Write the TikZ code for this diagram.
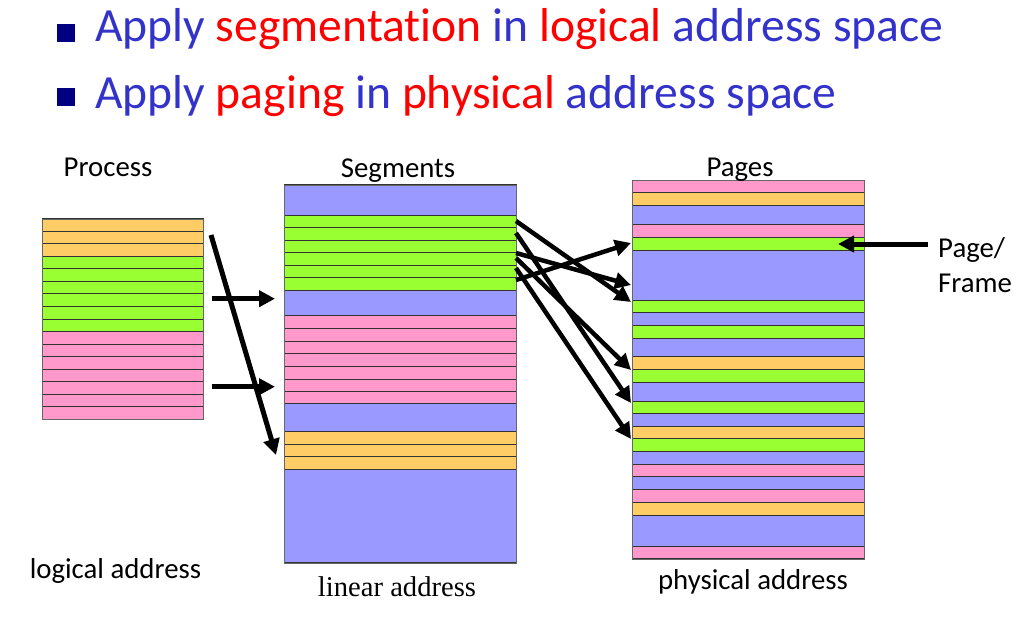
\documentclass[tikz,border=0pt]{standalone}
\usepackage{fontspec}
\setmainfont{Carlito}[Ligatures={NoCommon}]
\newfontfamily\timesfont{Liberation Serif}
\usetikzlibrary{arrows.meta}
\definecolor{cOrange}{HTML}{FFCC66}
\definecolor{cGreen}{HTML}{99FF33}
\definecolor{cPink}{HTML}{FF99CC}
\definecolor{cBlue}{HTML}{9999FF}
\definecolor{headblue}{HTML}{3333CC}
\definecolor{headred}{HTML}{FF0000}
\definecolor{bulletnavy}{HTML}{000080}
\tikzset{
  rowbox/.style={draw=black!80, line width=1pt},
  colframe/.style={draw=black!60, line width=1.1pt, inner sep=0pt, anchor=north west},
  bigarrow/.style={line width=5pt, -{Triangle[length=16pt,width=16pt]}},
  label/.style={inner sep=0pt, anchor=base, font=\fontsize{28.8}{34}\selectfont},
  headline/.style={inner sep=0pt, anchor=base west, text=headblue, font=\fontsize{47.6}{56}\selectfont},
  bulletsq/.style={fill=bulletnavy, inner sep=0pt, minimum size=18.5pt},
}
\newcommand{\hr}[1]{\textcolor{headred}{#1}}
\begin{document}
\begin{tikzpicture}[x=1pt,y=-1pt]
\useasboundingbox[fill=white] (0,0) rectangle (1024,619);

% headings
\node[bulletsq] (b1) at (65.8,33) {};
\node[headline] (h1) at (95,41.7) {Apply \hr{segmentation} in \hr{logical} address space};
\node[bulletsq] (b2) at (65.8,97) {};
\node[headline] (h2) at (95,108.3) {Apply \hr{paging} in \hr{physical} address space};

% Process column
\foreach \i/\c in {0/cOrange,1/cOrange,2/cOrange,3/cGreen,4/cGreen,5/cGreen,6/cGreen,7/cGreen,8/cGreen,
  9/cPink,10/cPink,11/cPink,12/cPink,13/cPink,14/cPink,15/cPink}
  \draw[rowbox, fill=\c] (42.3,218.7+12.54*\i) rectangle (203.3,218.7+12.54*\i+12.54);
\node[colframe, minimum width=161pt, minimum height=200.6pt] (proc) at (42.3,218.7) {};

% Segments column
\foreach \t/\b/\c in {184.7/215/cBlue,215/227.3/cGreen,227.3/240/cGreen,240/252.7/cGreen,252.7/265.3/cGreen,
  265.3/277.7/cGreen,277.7/290.3/cGreen,290.3/315.3/cBlue,315.3/328.3/cPink,328.3/341/cPink,341/353.3/cPink,
  353.3/366/cPink,366/379/cPink,379/391.7/cPink,391.7/403.7/cPink,403.7/431.3/cBlue,431.3/444.3/cOrange,
  444.3/456.3/cOrange,456.3/469.3/cOrange,469.3/562.7/cBlue}
  \draw[rowbox, fill=\c] (284,\t) rectangle (516,\b);
\node[colframe, minimum width=232pt, minimum height=378pt] (seg) at (284,184.7) {};

% Pages column
\foreach \t/\b/\c in {180.3/192.7/cPink,192.7/205.3/cOrange,205.3/224/cBlue,224/237/cPink,237/250/cGreen,
  250/300.3/cBlue,300.3/312.3/cGreen,312.3/325.3/cBlue,325.3/338.3/cGreen,338.3/356.7/cBlue,
  356.7/369.3/cOrange,369.3/382.7/cGreen,382.7/401.3/cBlue,401.3/413.3/cGreen,413.3/426.3/cBlue,
  426.3/438.7/cOrange,438.7/451.3/cGreen,451.3/464.3/cBlue,464.3/476.7/cPink,476.7/489.3/cBlue,
  489.3/502.3/cPink,502.3/515/cOrange,515/546.7/cBlue,546.7/558.7/cPink}
  \draw[rowbox, fill=\c] (632.3,\t) rectangle (864.3,\b);
\node[colframe, minimum width=232pt, minimum height=378.4pt] (pages) at (632.3,180.3) {};

% labels
\node[label] (lproc) at (108,176.7) {Process};
\node[label] (lseg) at (398,177.3) {Segments};
\node[label] (lpag) at (740,176.7) {Pages};
\node[label] (llog) at (115.5,578.3) {logical address};
\node[label, font=\timesfont\fontsize{28.6}{34}\selectfont] (llin) at (397,596.7) {linear address};
\node[label] (lphy) at (753,589.3) {physical address};
\node[label, anchor=base west] (pf1) at (938,257.3) {Page/};
\node[label, anchor=base west] (pf2) at (938,292.7) {Frame};

% left arrows
\coordinate (l1s) at (211.7,298.7); \coordinate (l1e) at (275,298.7);
\coordinate (l2s) at (211.7,386.7); \coordinate (l2e) at (275,386.7);
\coordinate (dgs) at (211,235);     \coordinate (dge) at (276,455);
\draw[bigarrow] (l1s) -- (l1e);
\draw[bigarrow] (l2s) -- (l2e);
\draw[bigarrow] (dgs) -- (dge);

% segment -> page arrows
\foreach \n/\s/\e in {1/221/302, 2/233/403, 3/253/285, 4/258/370, 5/268/439, 6/280/243} {
  \coordinate (rs\n) at (516,\s);
  \coordinate (re\n) at (631,\e);
  \draw[bigarrow, line width=4.5pt] (rs\n) -- (re\n);
}

% page/frame arrow
\coordinate (pfs) at (928,244); \coordinate (pfe) at (838,244);
\draw[bigarrow] (pfs) -- (pfe);
\end{tikzpicture}
\end{document}
